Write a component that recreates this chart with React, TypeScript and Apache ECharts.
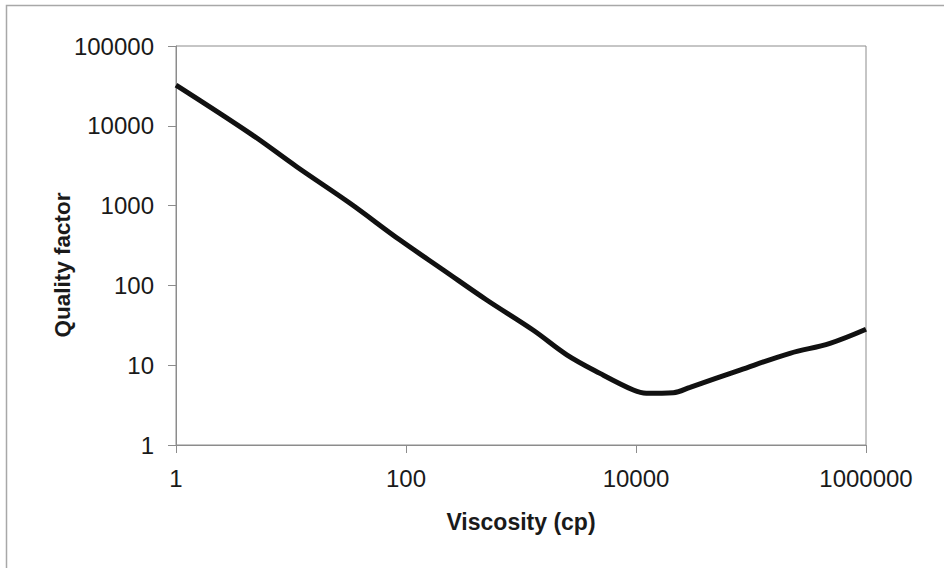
import React, { useEffect, useRef } from "react";
import * as echarts from "echarts";

const viscosity = [1, 4.4, 11.2, 32.6, 88.7, 211, 503, 1280, 2500, 4860, 9480, 12300, 21100, 29500, 80200, 218000, 486000, 1000000];
const qualityFactor = [32400, 8050, 3070, 1070, 370, 156, 65.6, 27.4, 13.5, 7.9, 4.89, 4.45, 4.52, 5.28, 8.7, 14.1, 18.8, 28.2];
const xTitle = "Viscosity (cp)";
const yTitle = "Quality factor";

export default function App() {
  const ref = useRef<HTMLDivElement>(null);
  useEffect(() => {
    if (!ref.current) return;
    const chart = echarts.init(ref.current, null, { renderer: "svg" });
    const axisColor = "#8c8c8c";
    const font = "'Liberation Sans', Arial, sans-serif";
    chart.setOption({
      animation: false,
      backgroundColor: "#ffffff",
      grid: {
        left: 176,
        top: 46,
        right: 78,
        bottom: 123,
        show: true,
        borderColor: axisColor,
        borderWidth: 1,
      },
      xAxis: {
        type: "log",
        logBase: 100,
        min: 1,
        max: 1000000,
        name: xTitle,
        nameLocation: "middle",
        nameGap: 65,
        nameTextStyle: { fontFamily: font, fontSize: 23, fontWeight: "bold", color: "#1a1a1a" },
        axisLine: { show: true, lineStyle: { color: axisColor, width: 1 } },
        axisTick: { show: true, length: 8, lineStyle: { color: axisColor } },
        axisLabel: {
          margin: 21,
          fontFamily: font,
          fontSize: 24,
          color: "#1a1a1a",
          formatter: (v: number) => String(Math.round(v)),
        },
        splitLine: { show: false },
      },
      yAxis: {
        type: "log",
        logBase: 10,
        min: 1,
        max: 100000,
        axisLine: { show: true, lineStyle: { color: axisColor, width: 1 } },
        axisTick: { show: true, length: 8, lineStyle: { color: axisColor } },
        axisLabel: {
          margin: 22,
          fontFamily: font,
          fontSize: 24,
          color: "#1a1a1a",
          formatter: (v: number) => String(Math.round(v)),
        },
        splitLine: { show: false },
      },
      graphic: [
        {
          type: "rect",
          silent: true,
          shape: { x: 6.5, y: 5.5, width: 1000, height: 1000 },
          style: { fill: "none", stroke: "#a8a8a8", lineWidth: 1.5 },
          z: -1,
        },
        {
          type: "text",
          x: 62,
          y: 265,
          rotation: Math.PI / 2,
          style: {
            text: yTitle,
            fontFamily: font,
            fontSize: 22.5,
            fontWeight: "bold",
            fill: "#1a1a1a",
            align: "center",
            verticalAlign: "middle",
          },
        },
      ],
      series: [
        {
          type: "line",
          data: viscosity.map((v, i) => [v, qualityFactor[i]]),
          showSymbol: false,
          smooth: 0.35,
          lineStyle: { color: "#111111", width: 5 },
          clip: true,
        },
      ],
    });
    return () => chart.dispose();
  }, []);
  return (
    <div
      ref={ref}
      style={{ position: "fixed", left: 0, top: 0, width: 944, height: 568 }}
    />
  );
}
